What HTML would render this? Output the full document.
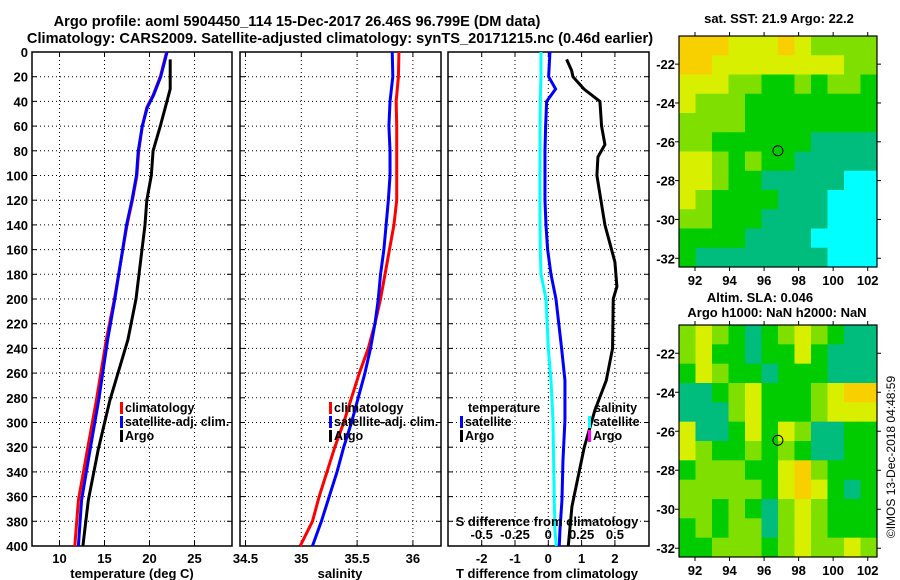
<!DOCTYPE html>
<html><head><meta charset="utf-8"><style>
html,body{margin:0;padding:0;background:#fff;}
svg{display:block;font-family:"Liberation Sans",sans-serif;font-weight:bold;}
</style></head><body>
<svg id="c" width="900" height="580" viewBox="0 0 900 580">
<text x="297" y="26" font-size="14.6" text-anchor="middle">Argo profile: aoml 5904450_114 15-Dec-2017 26.46S 96.799E (DM data)</text>
<text x="340" y="43" font-size="14.6" text-anchor="middle">Climatology: CARS2009. Satellite-adjusted climatology: synTS_20171215.nc (0.46d earlier)</text>
</svg>
<script>
const NS='http://www.w3.org/2000/svg';
const svg=document.getElementById('c');
function mk(tag,attrs,parent){const e=document.createElementNS(NS,tag);for(const k in attrs)e.setAttribute(k,attrs[k]);(parent||svg).appendChild(e);return e;}

// ---- data ----
const depthTicks=[0,20,40,60,80,100,120,140,160,180,200,220,240,260,280,300,320,340,360,380,400];
const tempTicks=[10,15,20,25];
const salTicks=[34.5,35,35.5,36];
const tdiffTicks=[-2,-1,0,1,2];
const sdiffTicks=[-0.5,-0.25,0,0.25,0.5];
const sdiffTickLabels=['-0.5','-0.25','0','0.25','0.5'];

const climDepth=[0,20,35,45,60,80,100,120,140,200,233,282,322,363,400];
const climTemp=[21.9,21.2,20.4,19.7,19.2,18.8,18.6,18.1,17.5,16.1,15.2,14.1,13.1,12.1,11.7];
const satTemp=[21.95,21.25,20.45,19.75,19.2,18.75,18.55,18.05,17.45,16.15,15.35,14.35,13.4,12.45,12.1];
const argoDepth=[6,30,41,60,80,100,120,140,200,233,282,322,363,400];
const argoTemp=[22.3,22.3,21.9,21.2,20.4,20.2,19.7,19.5,18.5,17.6,15.6,14.3,13.2,12.6];

const salDepth=[0,20,40,60,80,100,120,140,160,180,200,220,240,260,280,300,320,340,360,380,400];
const climSal=[35.875,35.87,35.85,35.855,35.855,35.855,35.855,35.83,35.79,35.75,35.71,35.66,35.6,35.52,35.45,35.38,35.3,35.23,35.16,35.1,34.99];
const satSal=[35.815,35.82,35.795,35.785,35.795,35.795,35.78,35.76,35.74,35.71,35.69,35.66,35.62,35.57,35.51,35.45,35.38,35.32,35.25,35.18,35.1];

const dDepth=[0,20,30,40,60,80,100,120,140,160,180,200,240,266,298,331,363,387,400];
const satTdiff=[0.05,0.01,0.22,-0.05,-0.08,-0.1,-0.1,-0.1,-0.07,-0.02,0.08,0.23,0.4,0.5,0.5,0.44,0.41,0.35,0.33];
const satSdiff=[-0.055,-0.055,-0.058,-0.06,-0.062,-0.062,-0.063,-0.063,-0.062,-0.06,-0.055,-0.017,0.0,0.02,0.035,0.04,0.045,0.05,0.06];
const argoTDepth=[6,15,20,30,40,60,75,85,100,120,140,160,170,190,200,240,266,290,320,368,400];
const argoTdiff=[0.55,0.7,0.74,1.07,1.55,1.6,1.7,1.49,1.46,1.58,1.7,1.9,2.0,2.06,1.95,1.93,1.74,1.4,1.08,0.71,0.6];

// ---- axes ----
const Y0=52,Y1=546;
const yScale=d=>Y0+d*(Y1-Y0)/400;
const panels=[
 {x0:32,x1:232,xs:v=>59.5+(v-10)*9,ticks:tempTicks,labels:tempTicks.map(String),name:'temperature'},
 {x0:240,x1:441,xs:v=>245.5+(v-34.5)*111.6,ticks:salTicks,labels:salTicks.map(String),name:'salinity'},
 {x0:448,x1:649,xs:v=>548.3+v*33.3,ticks:tdiffTicks,labels:tdiffTicks.map(String),name:'t-diff'}
];
const sx=v=>548.3+v*133.2;

panels.forEach((p,i)=>{
 const g=mk('g',{});
 
 
 depthTicks.forEach(d=>{
  const y=yScale(d);
  if(d>0&&d<400){const l=mk('line',{x1:p.x0,x2:p.x1,y1:y,y2:y,stroke:'#000','stroke-width':1,'stroke-dasharray':'1,3'},g);
   }
  mk('line',{x1:p.x0,x2:p.x0+5,y1:y,y2:y,stroke:'#000'},g);
  mk('line',{x1:p.x1-5,x2:p.x1,y1:y,y2:y,stroke:'#000'},g);
  if(i===0){const t=mk('text',{x:28,y:y+5,'font-size':13,'text-anchor':'end'},g);t.textContent=d;
   }
 });
 p.ticks.forEach((v,k)=>{
  const x=p.xs(v);
  const l=mk('line',{x1:x,x2:x,y1:Y0,y2:Y1,stroke:'#000','stroke-width':1,'stroke-dasharray':'1,3'},g);
  
  mk('line',{x1:x,x2:x,y1:Y1-5,y2:Y1,stroke:'#000'},g);
  mk('line',{x1:x,x2:x,y1:Y0,y2:Y0+5,stroke:'#000'},g);
  const t=mk('text',{x:x,y:563,'font-size':13,'text-anchor':'middle'},g);t.textContent=p.labels[k];
  
 });
 mk('rect',{x:p.x0,y:Y0,width:p.x1-p.x0,height:Y1-Y0,fill:'none',stroke:'#000','stroke-width':1.5},g);
});

function line(xs,ys,color,name,sw){
 const pts=xs.map((v,k)=>v+','+ys[k]).join(' ');
 const e=mk('polyline',{points:pts,fill:'none',stroke:color,'stroke-width':sw||3,'stroke-linejoin':'miter'});
 
 
}
const P=panels;
line(climTemp.map(P[0].xs),climDepth.map(yScale),'#f00','climatology-temp-line');
line(satTemp.map(P[0].xs),climDepth.map(yScale),'#00f','satellite-temp-line');
line(argoTemp.map(P[0].xs),argoDepth.map(yScale),'#000','argo-temp-line');
line(climSal.map(P[1].xs),salDepth.map(yScale),'#f00','climatology-sal-line');
line(satSal.map(P[1].xs),salDepth.map(yScale),'#00f','satellite-sal-line');
line(satSdiff.map(sx),dDepth.map(yScale),'#0ff','satellite-sdiff-line');
line(satTdiff.map(P[2].xs),dDepth.map(yScale),'#00f','satellite-tdiff-line');
line(argoTdiff.map(P[2].xs),argoTDepth.map(yScale),'#000','argo-tdiff-line');

// secondary S-axis labels in panel 3
sdiffTicks.forEach((v,k)=>{
 const t=mk('text',{x:sx(v),y:539,'font-size':13,'text-anchor':'middle'});t.textContent=sdiffTickLabels[k];
 
});
function txt(x,y,s,name,size,anchor){const t=mk('text',{x:x,y:y,'font-size':size||13,'text-anchor':anchor||'start'});t.textContent=s;
 return t;}
txt(547,526,'S difference from climatology','s-diff-axis-title',13,'middle');
txt(132,578,'temperature (deg C)','temperature-axis-title',13,'middle');
txt(340,578,'salinity','salinity-axis-title',13,'middle');
txt(547,578,'T difference from climatology','t-diff-axis-title',13,'middle');

// legends
function legItem(x,y,color,label,name){
 const r=mk('rect',{x:x,y:y-10,width:3,height:12,fill:color});
 
 txt(x+5,y,label,name,12.5);
}
legItem(120,412,'#f00','climatology','legend-climatology');
legItem(120,426,'#00f','satellite-adj. clim.','legend-satellite-adj');
legItem(120,440,'#000','Argo','legend-argo');
legItem(329,412,'#f00','climatology','legend-sal-climatology');
legItem(329,426,'#00f','satellite-adj. clim.','legend-sal-satellite-adj');
legItem(329,440,'#000','Argo','legend-sal-argo');
txt(468,412,'temperature','legend-temperature-heading',12.5);
legItem(460,426,'#00f','satellite','legend-t-satellite');
legItem(460,440,'#000','Argo','legend-t-argo');
txt(594,412,'salinity','legend-salinity-heading',12.5);
legItem(588,426,'#0ff','satellite','legend-s-satellite');
legItem(588,440,'#f0f','Argo','legend-s-argo');

// ---- maps ----
const mapLons=[92,94,96,98,100,102];
const mapLats=[-22,-24,-26,-28,-30,-32];
const cmap=['#00ffff','#00bd7d','#00cc00','#7fe000','#d8f000','#f8d000','#f5a800'];
const sstGrid=[
[5,5,5,4,4,4,5,4,3,3,3,3],
[5,5,4,4,4,4,4,4,4,4,3,3],
[4,4,4,3,3,2,2,3,2,3,3,2],
[4,3,3,3,2,2,2,2,2,2,2,2],
[3,3,3,3,2,2,2,2,2,2,2,2],
[3,3,2,2,2,2,2,2,1,1,1,1],
[4,4,3,2,3,2,2,1,1,1,1,1],
[4,4,3,2,2,1,1,1,1,1,0,0],
[4,3,2,2,2,2,1,1,1,0,0,0],
[3,3,2,2,2,1,1,1,1,0,0,0],
[2,2,2,2,1,1,1,1,0,0,0,0],
[2,1,1,1,1,1,1,1,1,0,0,0]];
const slaGrid=[
[3,4,3,2,1,2,3,4,3,2,1,1],
[3,4,2,2,1,2,2,4,2,1,1,1],
[2,4,3,2,2,1,2,2,2,1,1,1],
[1,1,2,3,4,2,2,2,3,4,5,5],
[1,1,1,3,4,2,2,2,3,4,4,4],
[4,1,1,2,4,2,4,3,1,1,2,2],
[4,3,2,2,3,2,3,2,1,1,2,2],
[2,3,3,3,2,2,4,5,3,2,2,2],
[3,3,3,3,3,2,4,5,4,2,1,2],
[3,3,2,3,2,1,3,4,3,2,2,2],
[2,3,2,3,3,1,3,4,3,2,2,2],
[2,2,3,3,3,2,3,4,3,3,4,3]];
const argoLon=96.8, argoLat=-26.46;

function drawMap(top,bottom,grid,name){
 const x0=679,x1=877;
 const lx=v=>695+(v-92)*17.27;
 const ly=v=>top+(-v-20.55)*(bottom-top)/11.9;
 const g=mk('g',{});
 
 
 const rows=grid.length,cols=grid[0].length;
 const cw=(x1-x0)/cols,ch=(bottom-top)/rows;
 grid.forEach((row,r)=>row.forEach((v,c)=>{
  const e=mk('rect',{x:x0+c*cw,y:top+r*ch,width:cw+0.5,height:ch+0.5,fill:cmap[v]},g);
  
  
 }));
 mk('rect',{x:x0,y:top,width:x1-x0,height:bottom-top,fill:'none',stroke:'#000','stroke-width':1.2},g);
 mapLons.forEach(v=>{const x=lx(v);
  mk('line',{x1:x,x2:x,y1:bottom,y2:bottom+4,stroke:'#000'},g);
  mk('line',{x1:x,x2:x,y1:top-4,y2:top,stroke:'#000'},g);
  const t=mk('text',{x:x,y:bottom+18,'font-size':13,'text-anchor':'middle'},g);t.textContent=v;
  });
 mapLats.forEach(v=>{const y=ly(v);
  mk('line',{x1:x0-4,x2:x0,y1:y,y2:y,stroke:'#000'},g);
  mk('line',{x1:x1,x2:x1+4,y1:y,y2:y,stroke:'#000'},g);
  const t=mk('text',{x:675,y:y+5,'font-size':13,'text-anchor':'end'},g);t.textContent=v;
  });
 const c=mk('circle',{cx:lx(argoLon),cy:ly(argoLat),r:5,fill:'none',stroke:'#000','stroke-width':1},g);
 
}
drawMap(36,267,sstGrid,'sst-map');
drawMap(325,557,slaGrid,'sla-map');
txt(779,23,'sat. SST: 21.9 Argo: 22.2','sst-map-title',13,'middle');
txt(760,302,'Altim. SLA: 0.046','sla-map-title',13,'middle');
txt(777,317,'Argo h1000: NaN h2000: NaN','sla-map-subtitle',13,'middle');
const cr=txt(0,0,'©IMOS 13-Dec-2018 04:48:59','copyright-stamp',12,'middle');
cr.setAttribute('font-weight','normal');
cr.setAttribute('transform','translate(895,457) rotate(-90)');
</script>
</body></html>
